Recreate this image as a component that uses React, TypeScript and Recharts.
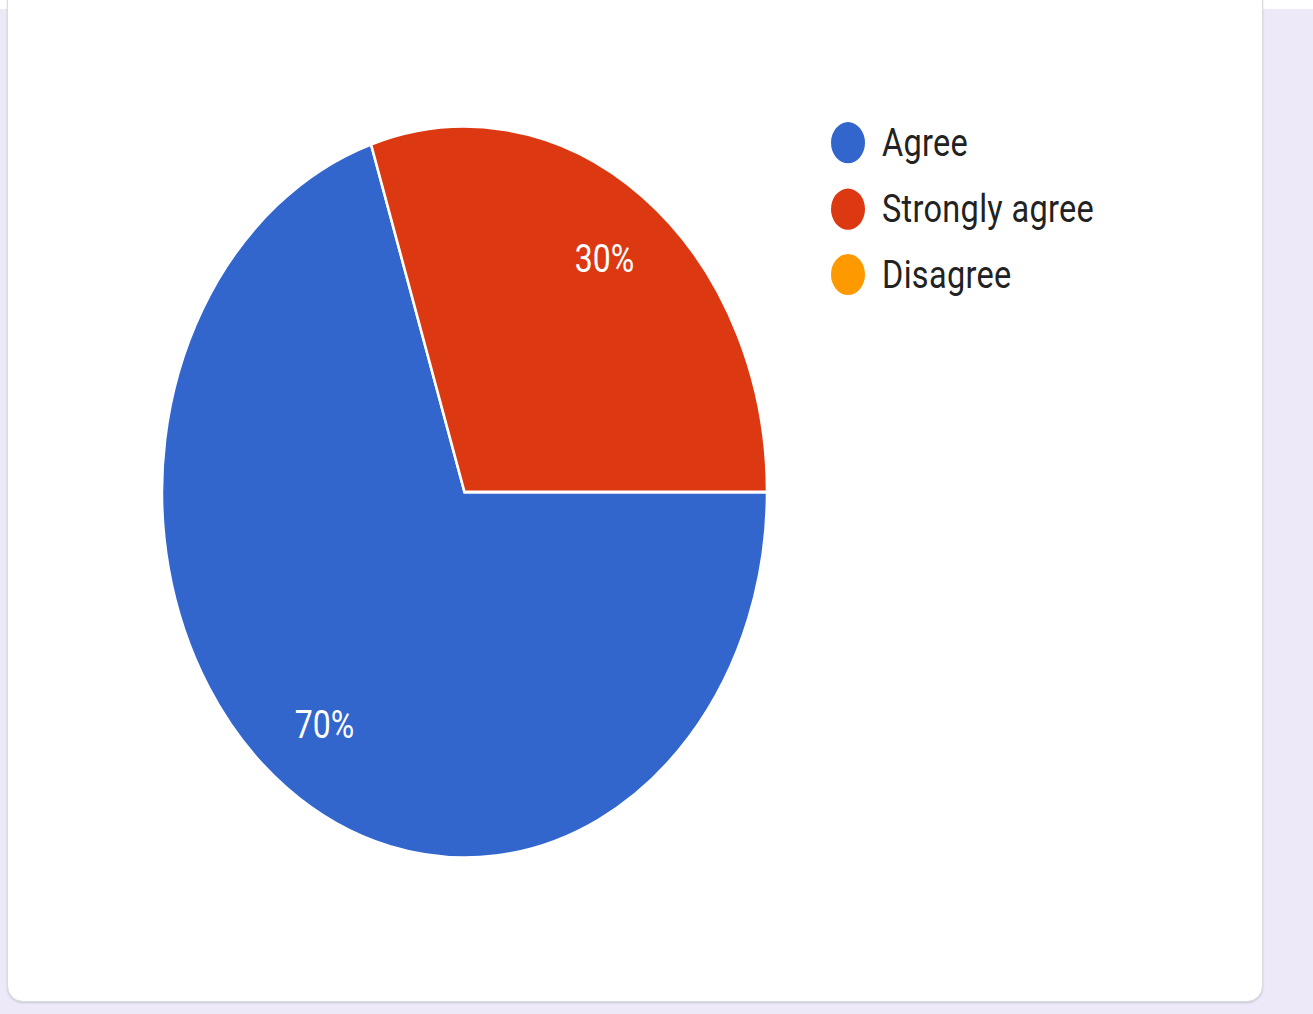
import React from "react";
import { PieChart, Pie, Cell, Legend } from "recharts";

const categories = ["Agree", "Strongly agree", "Disagree"];
const responses = [7, 3, 0];
const sliceColors = ["#3366cc", "#dc3912", "#ff9900"];

const chartData = categories.map((name, i) => ({ name, value: responses[i] }));

// the screenshot is stretched vertically, so the chart is drawn flat and scaled
const STRETCH = 1.209;
const RADIAN = Math.PI / 180;

const renderLabel = ({ cx, cy, midAngle, outerRadius, percent }: any) => {
  if (!percent) return null;
  const r = outerRadius * 0.787;
  const x = cx + r * Math.cos(-midAngle * RADIAN);
  const y = cy + r * Math.sin(-midAngle * RADIAN);
  return (
    <text
      x={x}
      y={y}
      fill="#ffffff"
      fontSize={32}
      fontFamily="Roboto"
      textAnchor="middle"
      dominantBaseline="central"
    >
      {`${Math.round(percent * 100)}%`}
    </text>
  );
};

const renderLegend = () => (
  <div style={{ fontFamily: "Roboto" }}>
    {categories.map((name, i) => (
      <div
        key={name}
        style={{ display: "flex", alignItems: "center", height: 54.6 }}
      >
        <span
          style={{
            width: 34,
            height: 34,
            borderRadius: "50%",
            background: sliceColors[i],
            marginRight: 17,
            flexShrink: 0,
          }}
        />
        <span
          style={{
            fontSize: 32.5,
            color: "#222222",
            lineHeight: "34px",
            letterSpacing: 0.3,
          }}
        >
          {name}
        </span>
      </div>
    ))}
  </div>
);

export default function App() {
  return (
    <div
      style={{
        position: "absolute",
        left: 0,
        top: 0,
        width: 1313,
        height: 1014,
        overflow: "hidden",
        background: "#ede9f8",
      }}
    >
      {/* strip of white at the very top */}
      <div
        style={{
          position: "absolute",
          left: 0,
          top: 0,
          width: 1313,
          height: 9,
          background: "#ffffff",
        }}
      />
      {/* card */}
      <div
        style={{
          position: "absolute",
          left: 7,
          top: -30,
          width: 1254,
          height: 1030,
          background: "#ffffff",
          border: "1px solid #dadce0",
          borderRadius: 16,
          boxShadow: "0 1px 2px rgba(60,64,67,0.2)",
        }}
      />
      <div
        style={{
          position: "absolute",
          left: 0,
          top: 0,
          width: 1313,
          height: 839,
          transform: `scaleY(${STRETCH})`,
          transformOrigin: "0 0",
        }}
      >
        <PieChart
          width={1313}
          height={839}
          margin={{ top: 0, right: 0, bottom: 0, left: 0 }}
        >
          <Pie
            data={chartData}
            dataKey="value"
            nameKey="name"
            cx={464.5}
            cy={407}
            outerRadius={302.5}
            startAngle={108}
            endAngle={468}
            stroke="#ffffff"
            strokeWidth={2.5}
            label={renderLabel}
            labelLine={false}
            isAnimationActive={false}
          >
            {chartData.map((d, i) => (
              <Cell key={d.name} fill={sliceColors[i]} />
            ))}
          </Pie>
          <Legend
            content={renderLegend}
            layout="vertical"
            wrapperStyle={{ left: 831, top: 91, width: 420, bottom: "auto" }}
          />
        </PieChart>
      </div>
    </div>
  );
}
